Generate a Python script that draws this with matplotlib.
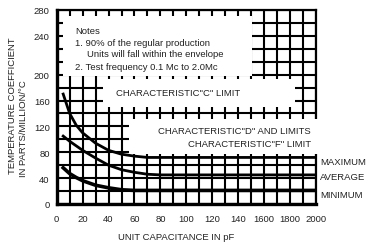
import numpy as np
import matplotlib
matplotlib.use("Agg")
import matplotlib.pyplot as plt
from matplotlib.patches import Rectangle

plt.rcParams['font.family'] = ['Liberation Sans', 'DejaVu Sans']

# unit capacitance (axis units, last point = end of scale)
cap = [5, 10, 15, 20, 30, 40, 50, 60, 70, 80, 200]
maximum = [170, 140, 122, 110, 94, 83, 77, 74, 72, 72, 72]
average = [105, 97, 90, 83, 71, 60, 53, 49, 46, 45, 45]
minimum = [56, 47, 41, 36, 29, 25, 22, 21, 21, 21, 21]

x_ticks = [0, 20, 40, 60, 80, 100, 120, 140, 160, 180, 200]
x_labels = ['0', '20', '40', '60', '80', '100', '120', '140', '1600', '1800', '2000']
y_ticks = [0, 40, 80, 120, 160, 200, 260, 300]
y_labels = ['0', '40', '80', '120', '160', '200', '240', '280']

fig = plt.figure(figsize=(3.8, 2.53), dpi=100)
ax = fig.add_axes([56.7 / 380, 1 - 205 / 253, (316 - 56.7) / 380, (205 - 11) / 253])
ax.set_xlim(0, 200)
ax.set_ylim(0, 300)

ax.set_xticks(x_ticks)
ax.set_xticklabels(x_labels)
ax.set_yticks(y_ticks)
ax.set_yticklabels(y_labels)
ax.set_xticks(np.arange(0, 201, 10), minor=True)
ax.set_yticks(np.arange(0, 301, 20), minor=True)
ax.tick_params(which='both', length=0)
ax.tick_params(axis='x', pad=7, labelsize=6.8, colors='#222222')
ax.tick_params(axis='y', pad=5, labelsize=6.8, colors='#222222')
ax.set_axisbelow(True)
ax.grid(which='both', color='black', lw=1.5)

for s in ax.spines.values():
    s.set_linewidth(1.6)
    s.set_zorder(2.5)
ax.spines['left'].set_linewidth(2.4)
ax.spines['bottom'].set_linewidth(2.4)

# white panels that hide the grid behind the notes
boxes = [(5, 198, 146, 93), (36, 150, 148, 43), (56, 77, 152, 54)]
for bx, by, bw, bh in boxes:
    ax.add_patch(Rectangle((bx, by), bw, bh, facecolor='white', edgecolor='none',
                           zorder=3, clip_on=False))

ax.plot(cap, maximum, color='black', lw=2.0, zorder=4)
ax.plot(cap, average, color='black', lw=2.0, zorder=4)
ax.plot(cap, minimum, color='black', lw=2.6, zorder=4)

tc = '#222222'
fs = 6.8
ax.text(14, 268, 'Notes', fontsize=fs, color=tc, va='center', zorder=5)
ax.text(14, 250, '1. 90% of the regular production', fontsize=fs, color=tc, va='center', zorder=5)
ax.text(23.5, 232, 'Units will fall within the envelope', fontsize=fs, color=tc, va='center', zorder=5)
ax.text(14, 213, '2. Test frequency 0.1 Mc to 2.0Mc', fontsize=fs, color=tc, va='center', zorder=5)
ax.text(94, 173, 'CHARACTERISTIC"C" LIMIT', fontsize=fs, color=tc, ha='center', va='center', zorder=5)
ax.text(196, 113, 'CHARACTERISTIC"D" AND LIMITS', fontsize=fs, color=tc, ha='right', va='center', zorder=5)
ax.text(196, 94, 'CHARACTERISTIC"F" LIMIT', fontsize=fs, color=tc, ha='right', va='center', zorder=5)

ax.text(203, 66, 'MAXIMUM', fontsize=fs, color=tc, va='center', clip_on=False)
ax.text(203, 43, 'AVERAGE', fontsize=fs, color=tc, va='center', clip_on=False)
ax.text(203, 15, 'MINIMUM', fontsize=fs, color=tc, va='center', clip_on=False)

fig.text(176 / 380, 1 - 238 / 253, 'UNIT CAPACITANCE IN pF', fontsize=fs, color=tc,
         ha='center', va='center')
fig.text(12.7 / 380, 1 - 174 / 253, 'TEMPERATURE COEFFICIENT', fontsize=fs, color=tc,
         rotation=90, ha='center', va='bottom')
fig.text(24 / 380, 1 - 177 / 253, 'IN PARTS/MILLION/°C', fontsize=fs, color=tc,
         rotation=90, ha='center', va='bottom')

fig.savefig('out.png', dpi=100, facecolor='white')
